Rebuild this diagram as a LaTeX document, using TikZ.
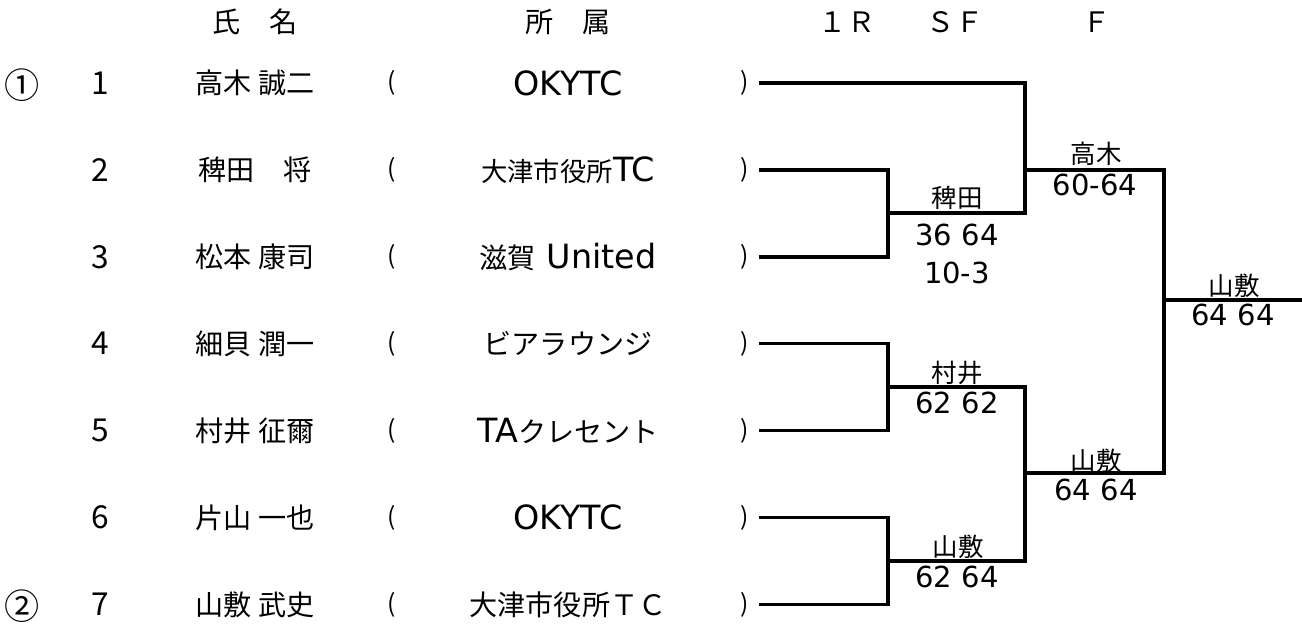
\documentclass[tikz,border=0pt]{standalone}
\usepackage{fontspec}
\setmainfont{DejaVu Sans}
\newfontfamily\jp{Noto Sans CJK JP}
\usepackage{tikz}

\newcommand\cjp[2][16]{{\jp\fontsize{#1}{#1}\selectfont #2}}

\tikzset{
  hdr/.style={font=\jp\fontsize{16}{18}\selectfont},
  seed/.style={font=\jp\fontsize{20}{22}\selectfont},
  entry/.style={font=\jp\fontsize{16}{18}\selectfont},
  num/.style={font=\jp\fontsize{18}{20}\selectfont},
  club/.style={font=\fontsize{19}{21}\selectfont},
  paren/.style={font=\jp\fontsize{14}{16}\selectfont},
  winner/.style={font=\jp\fontsize{14.5}{16}\selectfont, inner sep=0pt},
  score/.style={font=\fontsize{16.5}{18}\selectfont, inner sep=0pt},
  bracket/.style={line width=2pt}
}

\begin{document}
\begin{tikzpicture}[x=0.02cm, y=-0.02cm]
    \useasboundingbox (0,0) rectangle (1302,624);
    % Headers
    \node[hdr] (hname) at (255,22) {氏　名};
    \node[hdr] (hclub) at (568,22) {所　属};
    \node[hdr] (hr1) at (847,22) {１Ｒ};
    \node[hdr] (hsf) at (955,22) {ＳＦ};
    \node[hdr] (hf) at (1097,22) {Ｆ};
    % Seeds
    \node[seed] (seed1) at (22,85) {①};
    \node[seed] (seed2) at (22,606) {②};
    % Players
    \foreach \i/\nm/\cl in {1/高木 誠二/OKYTC,
                           2/稗田　将/{\cjp[15]{大津市役所}TC},
                           3/松本 康司/{\cjp{滋賀} United},
                           4/細貝 潤一/{\cjp{ビアラウンジ}},
                           5/村井 征爾/{TA\cjp{クレセント}},
                           6/片山 一也/OKYTC,
                           7/山敷 武史/{\cjp{大津市役所ＴＣ}}} {
        \pgfmathsetmacro\yy{83+86.9*(\i-1)}
        \node[num] (num\i) at (100,\yy) {\i};
        \node[entry] (name\i) at (255,\yy) {\nm};
        \node[paren] (lp\i) at (392,\yy) {(};
        \node[club] (club\i) at (568,\yy) {\cl};
        \node[paren] (rp\i) at (745,\yy) {)};
        \coordinate (e\i) at (759,\yy);
    }
    % Joints
    \coordinate (q1) at (888,213);
    \coordinate (q2) at (888,387);
    \coordinate (q3) at (888,561);
    \coordinate (t1) at (1025,213);
    \coordinate (t3) at (1025,561);
    \coordinate (u1) at (1025,170);
    \coordinate (u2) at (1025,473);
    \coordinate (f1) at (1164,170);
    \coordinate (fj) at (1164,300);
    \coordinate (win) at (1302,300);
    % Bracket
    \draw[bracket] (e2) -| (q1) |- (e3);
    \draw[bracket] (e4) -| (q2) |- (e5);
    \draw[bracket] (e6) -| (q3) |- (e7);
    \draw[bracket] (e1) -| (t1) -- (q1);
    \draw[bracket] (q2) -| (t3) -- (q3);
    \draw[bracket] (u2) -| (f1) -- (u1);
    \draw[bracket] (fj) -- (win);
    % Results
    \node[winner] (w23) at (957,198) {稗田};
    \node[score] (s23a) at (957,235) {36 64};
    \node[score] (s23b) at (957,273) {10-3};
    \node[winner] (w45) at (957,373) {村井};
    \node[score] (s45) at (957,403) {62 62};
    \node[winner] (w67) at (958,547) {山敷};
    \node[score] (s67) at (957,577) {62 64};
    \node[winner] (wt) at (1096,154) {高木};
    \node[score] (st) at (1095,185) {60-64};
    \node[winner] (wb) at (1096,461) {山敷};
    \node[score] (sb) at (1096,490) {64 64};
    \node[winner] (wf) at (1234,286) {山敷};
    \node[score] (sf) at (1233,315) {64 64};
\end{tikzpicture}
\end{document}
